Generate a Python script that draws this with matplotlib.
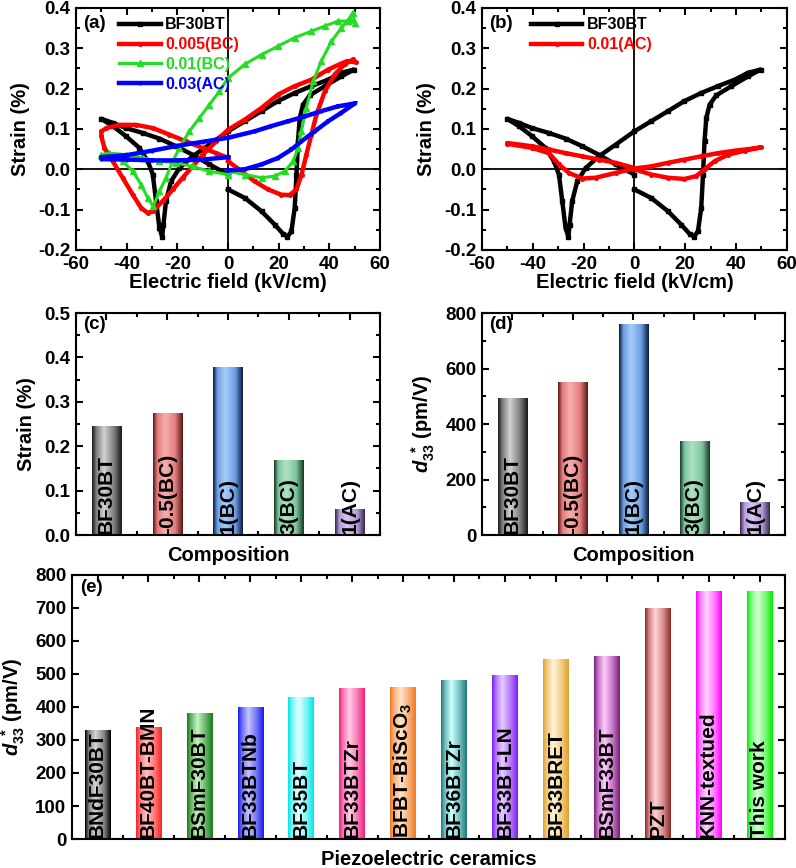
import numpy as np
import matplotlib
matplotlib.use("Agg")
import matplotlib.pyplot as plt
from matplotlib.colors import LinearSegmentedColormap
from matplotlib.ticker import MultipleLocator, FormatStrFormatter

plt.rcParams['font.family'] = ['Liberation Sans', 'DejaVu Sans']
plt.rcParams['font.weight'] = 'bold'
plt.rcParams['axes.labelweight'] = 'bold'
plt.rcParams['axes.unicode_minus'] = False
plt.rcParams['mathtext.fontset'] = 'custom'
plt.rcParams['mathtext.rm'] = 'Liberation Sans:bold'
plt.rcParams['mathtext.it'] = 'Liberation Sans:italic:bold'
plt.rcParams['mathtext.bf'] = 'Liberation Sans:bold'

# ---- (a)/(b) strain loops ----
bt_x = [0, 6.6, 13.2, 18.4, 21.7, 23.4, 25, 26.3, 27, 27.6, 28.3, 29.6, 32.2, 38.2, 44.7, 49.7,
        44.7, 39.5, 32.9, 26.3, 19.7, 13.2, 6.6, 0, -7.4, -14, -19.2, -22.5, -24.5, -25.5, -26,
        -27.1, -28.4, -29.7, -31.7, -35, -40.3, -45.5, -50.1, -45.5, -40.3, -33.7, -27.1, -20.5,
        -14, -7.4, 0]
bt_y = [-0.05, -0.071, -0.104, -0.137, -0.16, -0.167, -0.154, -0.096, -0.013, 0.069, 0.127, 0.16,
        0.183, 0.206, 0.23, 0.247, 0.239, 0.222, 0.206, 0.189, 0.169, 0.144, 0.119, 0.094, 0.061,
        0.032, 0.003, -0.03, -0.079, -0.137, -0.167, -0.145, -0.079, -0.013, 0.02, 0.053, 0.082,
        0.107, 0.125, 0.115, 0.102, 0.09, 0.076, 0.057, 0.036, 0.012, -0.013]

bc005_x = [0, 5.3, 10.5, 15.8, 21, 24.3, 27, 29, 30.9, 32.9, 34.9, 38.2, 42.1, 46, 49.3, 50.3, 47,
           44.7, 39.5, 32.9, 26.3, 19.7, 13.2, 6.6, 0, -4.7, -10, -14, -17.9, -21.8, -25.8, -29.7,
           -31.7, -34.3, -37.6, -41.6, -45.5, -48.8, -50, -50, -48, -42.9, -36.3, -29.7, -23.2,
           -16.6, -10, -4.7, 0]
bc005_y = [0.02, -0.005, -0.03, -0.05, -0.063, -0.064, -0.05, -0.013, 0.036, 0.086, 0.136, 0.193,
           0.235, 0.26, 0.272, 0.265, 0.268, 0.262, 0.247, 0.222, 0.206, 0.185, 0.152, 0.123, 0.098,
           0.069, 0.036, 0.007, -0.021, -0.05, -0.079, -0.104, -0.108, -0.096, -0.063, -0.021, 0.02,
           0.053, 0.082, 0.094, 0.102, 0.11, 0.11, 0.102, 0.086, 0.069, 0.053, 0.04, 0.028]

bc01_x = [0, 6.6, 13.2, 18.4, 22.4, 25.7, 27.6, 28.9, 30.9, 33.6, 36.8, 40.8, 44.7, 48, 49.3, 50,
          47.4, 43.4, 38.2, 32.9, 26.3, 19.7, 13.2, 6.6, 0, -3.4, -7.4, -11.3, -15.3, -19.2, -21.8,
          -24.5, -27.1, -29.5, -31.7, -34.3, -37.6, -41.6, -45.5, -50, -46.8, -40.3, -33.7, -27.1,
          -20.5, -14, -7.4, 0]
bc01_y = [-0.005, -0.013, -0.021, -0.017, -0.005, 0.02, 0.053, 0.094, 0.152, 0.218, 0.268, 0.317,
          0.35, 0.375, 0.388, 0.363, 0.367, 0.367, 0.355, 0.342, 0.326, 0.305, 0.284, 0.26, 0.226,
          0.193, 0.16, 0.127, 0.094, 0.053, 0.02, -0.021, -0.055, -0.092, -0.071, -0.038, -0.005,
          0.02, 0.032, 0.036, 0.04, 0.036, 0.028, 0.02, 0.016, 0.007, -0.005, -0.013]

ac03_x = [0, 6.6, 13.2, 19.7, 25, 28.9, 34.2, 39.5, 44.7, 50, 43.4, 36.8, 30.3, 23.7, 17.1, 10.5,
          0, -10, -20, -30, -40, -50, -50, -40, -30, -20, -10, 0]
ac03_y = [-0.003, 0, 0.012, 0.028, 0.049, 0.069, 0.094, 0.119, 0.14, 0.163, 0.156, 0.144, 0.131,
          0.119, 0.107, 0.094, 0.078, 0.068, 0.058, 0.046, 0.035, 0.03, 0.025, 0.024, 0.022, 0.022,
          0.024, 0.03]

ac01_x = [0, 6.6, 13.2, 19.7, 24.3, 27.6, 31.6, 36.8, 43.4, 49.7, 45, 39.5, 32.9, 26.3, 19.7, 13.2,
          6.6, 0, -7.4, -15.3, -20.5, -25.8, -29.7, -33.7, -40.3, -50, -50, -40.3, -33.7, -27.1,
          -20.5, -14, -7.4, 0]
ac01_y = [0, -0.013, -0.021, -0.024, -0.017, 0, 0.02, 0.036, 0.046, 0.054, 0.05, 0.046, 0.04,
          0.032, 0.024, 0.016, 0.007, 0.002, -0.009, -0.021, -0.023, -0.009, 0.012, 0.04, 0.053,
          0.063, 0.065, 0.057, 0.049, 0.04, 0.032, 0.024, 0.016, 0.003]

# ---- (c)/(d) bars ----
comp = ['BF30BT', '-0.5(BC)', '1(BC)', '3(BC)', '1(AC)']
strain = [0.246, 0.274, 0.379, 0.169, 0.059]
d33 = [494, 550, 760, 338, 118]
# (edge, body, highlight)
comp_cols = [('#1a1a1a', '#7c7c7c', '#d2d2d2'), ('#5a1818', '#e27c7c', '#f8aeae'),
             ('#0c1c3c', '#6c9ee2', '#a8ccf8'), ('#183a28', '#7cc49c', '#b0e2c4'),
             ('#382848', '#b29ad8', '#dac6f8')]

# ---- (e) comparison ----
ceram = ['BNdF30BT', 'BF40BT-BMN', 'BSmF30BT', 'BF33BTNb', 'BF35BT', 'BF33BTZr', 'BFBT-BiScO$_3$',
         'BF36BTZr', 'BF33BT-LN', 'BF33BRET', 'BSmF33BT', 'PZT', 'KNN-textued', 'This work']
d33_e = [331, 339, 381, 400, 431, 458, 462, 482, 497, 546, 554, 700, 750, 750]
ceram_cols = [('#000000', '#808080', '#d6d6d6'), ('#ff2020', '#ff7070', '#ffc4c4'),
              ('#1a7a1a', '#60b060', '#c4f4c4'), ('#1a1aee', '#6a6af4', '#c4c4ff'),
              ('#00e6e6', '#70f4f4', '#e4ffff'), ('#f0207a', '#f870b0', '#ffcce6'),
              ('#f07a20', '#f8aa70', '#ffe6cc'), ('#207a7a', '#70baba', '#ccffff'),
              ('#7a20f0', '#b070f8', '#e6ccff'), ('#e0a030', '#f0c878', '#fff4de'),
              ('#7a207a', '#c070c0', '#ffccff'), ('#8a2a2a', '#d08080', '#ffd4d4'),
              ('#ff00ff', '#ff70ff', '#ffd4ff'), ('#00ee00', '#70f870', '#d4ffd4')]


def style(ax):
    for s in ax.spines.values():
        s.set_linewidth(1.5)
    ax.tick_params(which='both', direction='in', top=True, right=True, width=1.5, labelsize=13.5, pad=4)
    ax.tick_params(which='major', length=5)
    ax.tick_params(which='minor', length=3)


def gradient_bars(ax, bars, cols):
    for b, (edge, body, light) in zip(bars, cols):
        cmap = LinearSegmentedColormap.from_list(
            'g', [(0, edge), (0.14, body), (0.4, light), (0.75, body), (1, edge)])
        x, y, w, h = b.get_x(), b.get_y(), b.get_width(), b.get_height()
        im = ax.imshow(np.linspace(0, 1, 64).reshape(1, -1), extent=[x, x + w, y, y + h],
                       aspect='auto', cmap=cmap, zorder=2, interpolation='bilinear')
        im.set_clip_path(b)
        b.set_facecolor('none')


def loop_axes(ax):
    ax.axhline(0, color='black', lw=1.3, zorder=1)
    ax.axvline(0, color='black', lw=1.3, zorder=1)
    ax.set_xlim(-60, 60)
    ax.set_ylim(-0.2, 0.4)
    ax.xaxis.set_major_locator(MultipleLocator(20))
    ax.xaxis.set_minor_locator(MultipleLocator(10))
    ax.yaxis.set_major_locator(MultipleLocator(0.1))
    ax.yaxis.set_minor_locator(MultipleLocator(0.05))
    ax.yaxis.set_major_formatter(FormatStrFormatter('%.1f'))
    ax.set_xlabel('Electric field (kV/cm)', fontsize=14.5, labelpad=0)
    ax.set_ylabel('Strain (%)', fontsize=14.5, labelpad=6)
    style(ax)


fig = plt.figure(figsize=(7.96, 8.68), dpi=100)
ax_a = fig.add_axes([0.0955, 0.712, 0.382, 0.279])
ax_b = fig.add_axes([0.6055, 0.712, 0.383, 0.279])
ax_c = fig.add_axes([0.0955, 0.3836, 0.382, 0.2558])
ax_d = fig.add_axes([0.6055, 0.3836, 0.3807, 0.2558])
ax_e = fig.add_axes([0.0905, 0.0334, 0.8957, 0.3042])

lw, ms = 3.2, 2.6
ax_a.plot(bt_x, bt_y, color='black', marker='s', lw=lw, ms=ms, label='BF30BT', zorder=3)
ax_a.plot(bc005_x, bc005_y, color='red', marker='o', lw=lw, ms=ms, label='0.005(BC)', zorder=3)
ax_a.plot(bc01_x, bc01_y, color='#22dd22', marker='^', lw=2.2, ms=4, label='0.01(BC)', zorder=3)
ax_a.plot(ac03_x, ac03_y, color='blue', marker='v', lw=lw, ms=ms, label='0.03(AC)', zorder=3)
loop_axes(ax_a)
ax_a.legend(loc='upper left', bbox_to_anchor=(0.11, 1.0), frameon=False, handlelength=2.6,
            handletextpad=0.3, labelspacing=0.3, borderaxespad=0.2, labelcolor='linecolor',
            prop={'size': 11.5, 'weight': 'bold'})
ax_a.text(0.025, 0.97, '(a)', transform=ax_a.transAxes, fontsize=13.5, va='top')

ax_b.plot(bt_x, bt_y, color='black', marker='s', lw=lw, ms=ms, label='BF30BT', zorder=3)
ax_b.plot(ac01_x, ac01_y, color='red', marker='o', lw=lw, ms=ms, label='0.01(AC)', zorder=3)
loop_axes(ax_b)
ax_b.legend(loc='upper left', bbox_to_anchor=(0.13, 1.0), frameon=False, handlelength=3.2,
            handletextpad=0.3, labelspacing=0.3, borderaxespad=0.2, labelcolor='linecolor',
            prop={'size': 11.5, 'weight': 'bold'})
ax_b.text(0.025, 0.97, '(b)', transform=ax_b.transAxes, fontsize=13.5, va='top')

pos = np.arange(1, len(comp) + 1)
for ax, vals, lab, lim, maj, mnr, tag in [(ax_c, strain, 'Strain (%)', 0.5, 0.1, 0.05, '(c)'),
                                          (ax_d, d33, r'$d_{33}^{\ *}$ (pm/V)', 800, 200, 100, '(d)')]:
    bars = ax.bar(pos, vals, width=0.48)
    gradient_bars(ax, bars, comp_cols)
    for p, name in zip(pos, comp):
        ax.text(p, lim * 0.003, name, rotation=90, ha='center', va='bottom', fontsize=15,
                fontweight='bold', zorder=4)
    ax.set_xlim(0.5, 5.5)
    ax.set_ylim(0, lim)
    ax.xaxis.set_major_locator(MultipleLocator(1))
    ax.xaxis.set_minor_locator(MultipleLocator(0.5))
    ax.yaxis.set_major_locator(MultipleLocator(maj))
    ax.yaxis.set_minor_locator(MultipleLocator(mnr))
    ax.set_xticklabels([])
    ax.set_xlabel('Composition', fontsize=14.5, labelpad=4)
    ax.set_ylabel(lab, fontsize=14.5, labelpad=6)
    ax.text(0.025, 0.985, tag, transform=ax.transAxes, fontsize=13.5, va='top')
    style(ax)
ax_c.yaxis.set_major_formatter(FormatStrFormatter('%.1f'))

pos_e = np.arange(1, len(ceram) + 1)
bars = ax_e.bar(pos_e, d33_e, width=0.5)
gradient_bars(ax_e, bars, ceram_cols)
for p, name in zip(pos_e, ceram):
    ax_e.text(p, 3, name, rotation=90, ha='center', va='bottom', fontsize=15,
              fontweight='bold', zorder=4)
ax_e.set_xlim(0.5, 14.5)
ax_e.set_ylim(0, 800)
ax_e.xaxis.set_major_locator(MultipleLocator(1))
ax_e.xaxis.set_minor_locator(MultipleLocator(0.5))
ax_e.yaxis.set_major_locator(MultipleLocator(100))
ax_e.set_xticklabels([])
ax_e.set_xlabel('Piezoelectric ceramics', fontsize=14.5, labelpad=4)
ax_e.set_ylabel(r'$d_{33}^{\ *}$ (pm/V)', fontsize=14.5, labelpad=6)
ax_e.text(0.012, 0.985, '(e)', transform=ax_e.transAxes, fontsize=13.5, va='top')
style(ax_e)

fig.savefig('out.png', dpi=100)
